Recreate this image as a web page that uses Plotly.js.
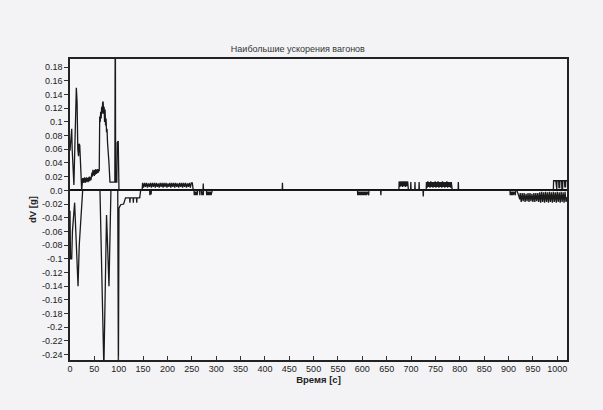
<!DOCTYPE html>
<html>
<head>
<meta charset="utf-8">
<script src="https://cdn.plot.ly/plotly-3.0.1.min.js"></script>
<style>html,body{margin:0;padding:0;background:#f3f3f6;}</style>
</head>
<body>
<div id="chart" style="width:603px;height:410px;"></div>
<script>
const chartTitle = 'Наибольшие ускорения вагонов';
const xTitle = 'Время [с]';
const yTitle = 'dV [g]';
const xTicks = [0,50,100,150,200,250,300,350,400,450,500,550,600,650,700,750,800,850,900,950,1000];
const yTickVals = [-0.24,-0.22,-0.2,-0.18,-0.16,-0.14,-0.12,-0.1,-0.08,-0.06,-0.04,-0.02,0,0.02,0.04,0.06,0.08,0.1,0.12,0.14,0.16,0.18];
const yTickText = ['-0.24','-0.22','-0.2','-0.18','-0.16','-0.14','-0.12','-0.1','-0.08','-0.06','-0.04','-0.02','0.0','0.02','0.04','0.06','0.08','0.1','0.12','0.14','0.16','0.18'];

// positive accelerations [time s, dV g]
const posStart = [[0,0.058],[3.5,0.09],[4.5,0.06],[8,0.008],[13,0.15],[14.5,0.13],[16,0.06],[17.5,0.05],[18.5,0.068],[20,0.066],[24,0],[25,0.012],[26,0.018],[27,0.011],[28,0.018],[29,0.012],[30,0.019],[31,0.011],[32,0.018],[33,0.012],[34,0.019],[35,0.013],[36,0.018],[37,0.012],[38,0.019],[39,0.013],[40,0.02],[41,0.014],[42,0.019],[43,0.015],[44,0.02],[45,0.026],[46,0.02],[47,0.03],[48,0.022],[49,0.029],[50,0.021],[51,0.03],[52,0.023],[53,0.031],[54,0.024],[55,0.03],[56,0.025],[57,0.031],[58,0.026],[59,0.03],[60,0.028],[61,0.108],[62,0.1],[63,0.115],[64,0.105],[65,0.122],[66,0.112],[67,0.128],[68,0.13],[69,0.112],[70,0.122],[71,0.1],[72,0.118],[73,0.095],[74,0.105],[75,0.085],[76,0.09],[77,0.07],[78,0.062],[79,0.05],[80,0.04],[82,0.012],[92,0.012],[93,0.3],[93.6,0.012],[96,0.012],[97,0.07],[99,0.072],[100.5,0],[148,0]];
const posBlock1 = [[149,0.011],[151,0.004],[153,0.011],[155,0.005],[157,0.011],[159,0.004],[161,0.010],[163,0.005],[165,0.011],[167,0.004],[169,0.011],[171,0.005],[173,0.011],[175,0.004],[177,0.011],[179,0.005],[181,0.010],[183,0.004],[185,0.011],[187,0.005],[189,0.011],[191,0.004],[193,0.011],[195,0.005],[197,0.011],[199,0.004],[201,0.010],[203,0.005],[205,0.011],[207,0.004],[209,0.011],[211,0.005],[213,0.011],[215,0.004],[217,0.011],[219,0.005],[221,0.010],[223,0.004],[225,0.011],[227,0.005],[229,0.011],[231,0.004],[233,0.011],[235,0.005],[237,0.011],[239,0.004],[241,0.010],[243,0.005],[245,0.011],[247,0.004],[249,0.011],[251,0.011],[253,0]];
const posTicks = [[273,0],[273.5,0.01],[274,0],[435.5,0],[436,0.011],[436.5,0]];
const posBlock2 = [[675,0],[675.5,0.013],[677,0.005],[678,0.013],[679.5,0.006],[681,0.013],[682.5,0.005],[684,0.013],[685.5,0.006],[687,0.013],[688.5,0.005],[690,0.013],[691.5,0.006],[693,0.013],[694.5,0],[699,0],[699.5,0.012],[700,0],[707.5,0],[708,0.012],[708.5,0],[716,0],[716.5,0.012],[717,0]];
const posBlock3 = [[731,0],[731.5,0.012],[733,0.004],[734.5,0.013],[736,0.005],[737.5,0.012],[739,0.004],[740.5,0.013],[742,0.005],[743.5,0.012],[745,0.004],[746.5,0.012],[748,0.005],[749.5,0.013],[751,0.004],[752.5,0.012],[754,0.005],[755.5,0.013],[757,0.004],[758.5,0.012],[760,0.005],[761.5,0.012],[763,0.004],[764.5,0.013],[766,0.005],[767.5,0.012],[769,0.004],[770.5,0.012],[772,0.005],[773.5,0.013],[775,0.004],[776.5,0.012],[778,0.005],[779.5,0.012],[781,0.004],[782.5,0.012],[784,0.003],[785,0],[796.5,0],[797,0.012],[797.5,0]];
const posBlock4 = [[992,0],[992.5,0.014],[997,0.014],[997.5,0.002],[999,0.002],[999.5,0.014],[1003,0.014],[1003.5,0.004],[1005,0.004],[1005.5,0.014],[1009,0.014],[1009.5,0.003],[1011,0.003],[1011.5,0.014],[1015,0.014],[1015.5,0.005],[1017,0.005],[1017.5,0.014],[1020,0.014]];

// negative accelerations [time s, dV g]
const negStart = [[0,-0.03],[1,-0.1],[3.5,-0.1],[5,-0.06],[9.5,-0.018],[16.5,-0.14],[19,-0.08],[20.5,-0.06],[26,0],[61.5,0],[69.5,-0.26],[75,-0.036],[80,-0.14],[84,0],[98,0],[99.3,-0.27],[100.5,-0.026],[104,-0.021],[110,-0.02],[114,-0.011],[122.5,-0.011],[123,-0.018],[123.5,-0.011],[129.5,-0.011],[130,-0.018],[130.5,-0.011],[136.5,-0.011],[137,-0.018],[137.5,-0.011],[143,-0.011],[145,0]];
const negTicks1 = [[163.5,0],[164,-0.007],[164.5,0],[166,0],[166.5,-0.006],[167,0]];
const negBlock1 = [[254.5,0],[255,-0.007],[256.5,-0.002],[258,-0.007],[259.5,-0.002],[261,-0.007],[262,0],[266,0],[266.5,-0.007],[267,0],[270,0],[270.5,-0.007],[272,-0.002],[273.5,-0.007],[274,0],[280,0],[280.5,-0.007],[282,-0.002],[283.5,-0.007],[285,-0.002],[286.5,-0.007],[288,-0.002],[289.5,-0.007],[291,-0.003],[292,0]];
const negBlock2 = [[590,0],[590.5,-0.007],[592,-0.002],[593.5,-0.007],[595,-0.002],[596.5,-0.007],[598,-0.002],[599.5,-0.007],[601,-0.002],[602.5,-0.007],[604,-0.002],[605.5,-0.007],[607,-0.002],[608.5,-0.007],[610,-0.002],[611.5,-0.007],[613,-0.007],[613.5,0]];
const negTicks2 = [[637.5,0],[638,-0.007],[638.5,0],[724.5,0],[725,-0.009],[725.5,0]];
const negBlock3 = [[903,0],[903.5,-0.007],[905,-0.002],[906.5,-0.007],[908,-0.002],[909.5,-0.007],[911,-0.002],[912.5,-0.007],[914,-0.007],[914.5,0]];
const negBlock4 = [[917,0],[921,-0.008],[923,-0.013],[924,-0.004],[926,-0.017],[928,-0.004],[930,-0.016],[932,-0.004],[934,-0.017],[936,-0.005],[938,-0.016],[940,-0.004],[942,-0.017],[944,-0.004],[946,-0.016],[948,-0.005],[950,-0.017],[952,-0.004],[954,-0.017],[956,-0.004],[958,-0.016],[960,-0.004],[962,-0.017],[964,-0.003],[966,-0.018],[968,-0.002],[970,-0.017],[972,-0.003],[974,-0.018],[976,-0.002],[978,-0.017],[980,-0.003],[982,-0.018],[984,-0.002],[986,-0.017],[988,-0.003],[990,-0.018],[992,-0.002],[994,-0.017],[996,-0.003],[998,-0.018],[1000,-0.002],[1002,-0.017],[1004,-0.003],[1006,-0.018],[1008,-0.002],[1010,-0.017],[1012,-0.003],[1014,-0.018],[1016,-0.002],[1018,-0.017],[1020,-0.01]];

const posSeries = [].concat(posStart,posBlock1,[[260,0]],posTicks,posBlock2,posBlock3,posBlock4);
const negSeries = [].concat(negStart,negTicks1,negBlock1,negBlock2,negTicks2,negBlock3,negBlock4);

const lineStyle = {color:'#1a1a1a', width:1.3};
const traces = [
  {x:posSeries.map(p=>p[0]), y:posSeries.map(p=>p[1]), type:'scatter', mode:'lines', line:lineStyle, hoverinfo:'skip', showlegend:false},
  {x:negSeries.map(p=>p[0]), y:negSeries.map(p=>p[1]), type:'scatter', mode:'lines', line:lineStyle, hoverinfo:'skip', showlegend:false}
];

const tickFont = {family:'Liberation Sans, Arial, sans-serif', size:9, color:'#222'};
const layout = {
  width:603, height:410,
  margin:{l:70, r:36, t:59, b:50},
  paper_bgcolor:'#f3f3f6', plot_bgcolor:'#f6f6f8',
  title:{text:chartTitle, font:{family:'Liberation Sans, Arial, sans-serif', size:9, color:'#333'}, x:0.494, xref:'container', xanchor:'center', y:1-49/410, yref:'container', yanchor:'middle'},
  xaxis:{range:[0,1020], tickvals:xTicks, ticktext:xTicks.map(String), ticks:'inside', ticklen:4, tickcolor:'#333', showline:true, mirror:true, linecolor:'#222', linewidth:1.6, showgrid:false, zeroline:false, tickfont:tickFont,
    title:{text:'<b>'+xTitle+'</b>', font:{family:'Liberation Sans, Arial, sans-serif', size:9.5, color:'#222'}, standoff:2}},
  yaxis:{range:[-0.248,0.192], tickvals:yTickVals, ticktext:yTickText, ticks:'outside', ticklen:4, tickcolor:'#333', showline:true, mirror:true, linecolor:'#222', linewidth:1.6, showgrid:false, zeroline:true, zerolinecolor:'#111', zerolinewidth:2, tickfont:tickFont,
    title:{text:'<b>'+yTitle+'</b>', font:{family:'Liberation Sans, Arial, sans-serif', size:9.5, color:'#222'}, standoff:4}}
};
Plotly.newPlot('chart', traces, layout, {displayModeBar:false, staticPlot:true});
</script>
</body>
</html>
